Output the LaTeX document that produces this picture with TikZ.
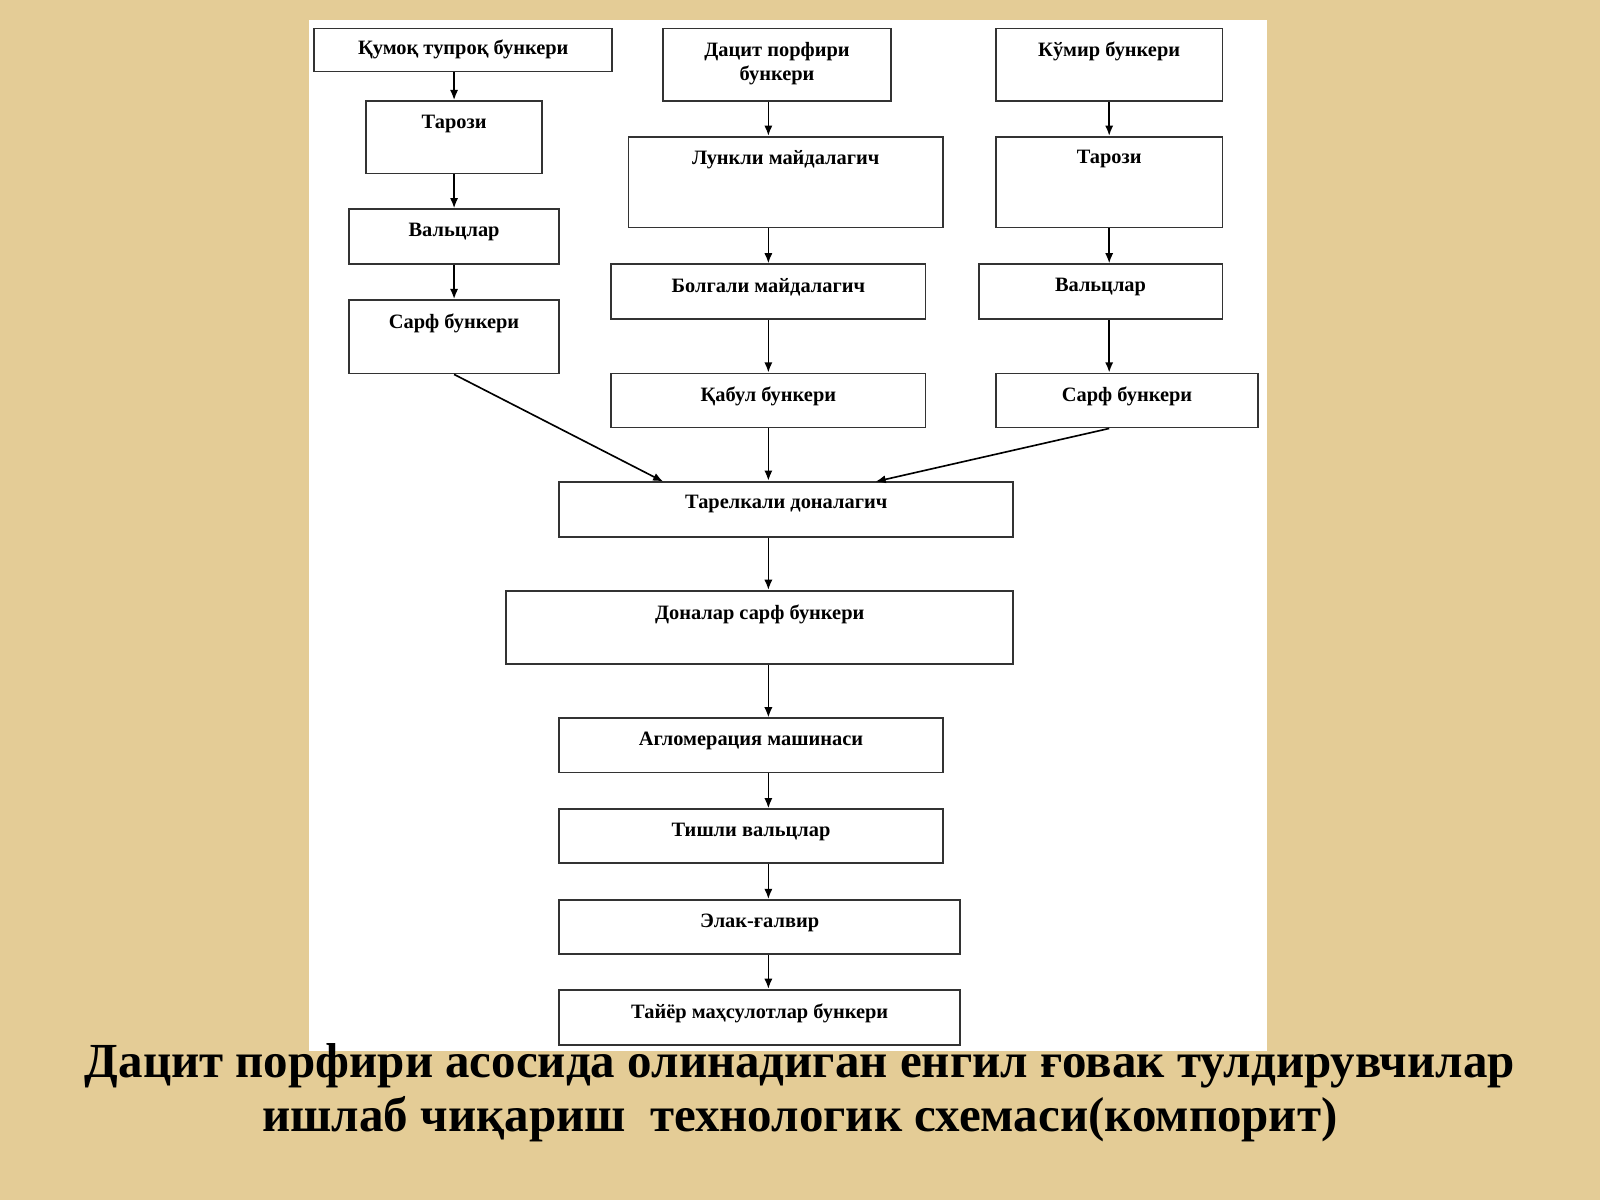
\documentclass[tikz,border=0pt]{standalone}
\usepackage{fontspec}
\setmainfont{Liberation Serif}
\usetikzlibrary{arrows.meta}
\definecolor{paper}{RGB}{228,204,150}
\tikzset{
  box/.style={draw=black!80, line width=0.9pt, fill=white, inner sep=0pt},
  txt/.style={anchor=north, font=\bfseries\fontsize{10}{12}\selectfont, align=center, inner sep=4pt, yshift=-3pt},
  flow/.style={-{Latex[length=5pt,width=4pt]}, line width=0.8pt}
}
\begin{document}
\begin{tikzpicture}[x=0.5pt,y=-0.5pt]
    \useasboundingbox (0,0) rectangle (1568,1176);
    \fill[paper] (0,0) rectangle (1568,1176);
    \fill[white] (303,20) rectangle (1242,1030);

    % left column
    \node[box, minimum width=146pt, minimum height=21pt, label={[txt, yshift=1pt]north:Қумоқ тупроқ бункери}] at (454,49)(sand){};
    \node[box, minimum width=86pt, minimum height=35.5pt, label={[txt]north:Тарози}] at (445,134.5)(scaleA){};
    \node[box, minimum width=103pt, minimum height=27pt, label={[txt]north:Вальцлар}] at (445,232)(rollA){};
    \node[box, minimum width=103pt, minimum height=36pt, label={[txt]north:Сарф бункери}] at (445,330)(feedA){};
    % middle column
    \node[box, minimum width=111.5pt, minimum height=35.5pt, label={[txt]north:Дацит порфири\\бункери}] at (761.5,63.5)(dacite){};
    \node[box, minimum width=154pt, minimum height=44.5pt, label={[txt]north:Лункли майдалагич}] at (770,178.5)(crush){};
    \node[box, minimum width=154pt, minimum height=27pt, label={[txt]north:Болгали майдалагич}] at (753,286)(hammer){};
    \node[box, minimum width=154pt, minimum height=26.5pt, label={[txt]north:Қабул бункери}] at (753,392.5)(recv){};
    % right column
    \node[box, minimum width=111pt, minimum height=35.5pt, label={[txt]north:Кўмир бункери}] at (1087,63.5)(coal){};
    \node[box, minimum width=111pt, minimum height=44.5pt, label={[txt]north:Тарози}] at (1087,178.5)(scaleC){};
    \node[box, minimum width=119.5pt, minimum height=27pt, label={[txt]north:Вальцлар}] at (1078.5,286)(rollC){};
    \node[box, minimum width=128.5pt, minimum height=26.5pt, label={[txt]north:Сарф бункери}] at (1104.5,392.5)(feedC){};
    % main line
    \node[box, minimum width=222.5pt, minimum height=27pt, label={[txt]north:Тарелкали доналагич}] at (770.5,499)(pan){};
    \node[box, minimum width=248.5pt, minimum height=36pt, label={[txt]north:Доналар сарф бункери}] at (744.5,615)(granule){};
    \node[box, minimum width=188pt, minimum height=26.5pt, label={[txt]north:Агломерация машинаси}] at (736,730.5)(sinter){};
    \node[box, minimum width=188pt, minimum height=26.5pt, label={[txt]north:Тишли вальцлар}] at (736,819.5)(teeth){};
    \node[box, minimum width=196.5pt, minimum height=26.5pt, label={[txt]north:Элак-ғалвир}] at (744.5,908.5)(sieve){};
    \node[box, minimum width=196.5pt, minimum height=27pt, label={[txt]north:Тайёр маҳсулотлар бункери}] at (744.5,997)(ready){};

    \coordinate (panL) at (650,472);
    \coordinate (panR) at (858,472);

    \path[flow]
        (sand.south -| scaleA) edge (scaleA.north)
        (scaleA.south) edge (rollA.north)
        (rollA.south) edge (feedA.north)
        (dacite.south -| hammer) edge (crush.north -| hammer)
        (crush.south -| hammer) edge (hammer.north)
        (hammer.south) edge (recv.north)
        (recv.south) edge (pan.north -| recv)
        (coal.south) edge (scaleC.north)
        (scaleC.south) edge (rollC.north -| scaleC)
        (rollC.south -| scaleC) edge (feedC.north -| scaleC)
        (feedA.south) edge (panL)
        (feedC.south -| scaleC) edge (panR)
        (pan.south -| recv) edge (granule.north -| recv)
        (granule.south -| recv) edge (sinter.north -| recv)
        (sinter.south -| recv) edge (teeth.north -| recv)
        (teeth.south -| recv) edge (sieve.north -| recv)
        (sieve.south -| recv) edge (ready.north -| recv)
        ;

    \node[font=\bfseries\fontsize{24}{26}\selectfont, align=center, anchor=north] at (784,1016)(title)
        {Дацит порфири асосида олинадиган енгил ғовак тулдирувчилар\\ишлаб чиқариш\ \ технологик схемаси(компорит)};
\end{tikzpicture}
\end{document}
